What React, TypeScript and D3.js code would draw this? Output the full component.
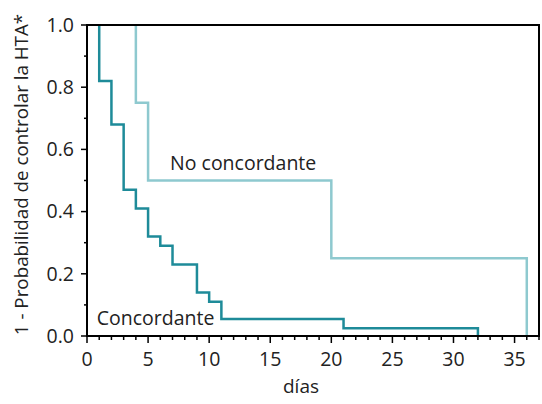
import React, { useEffect, useRef } from "react";
import * as d3 from "d3";

// Kaplan-Meier style curves
const concTimes = [1, 1, 2, 3, 4, 5, 6, 7, 9, 10, 11, 21, 32];
const concValues = [1, 0.82, 0.68, 0.47, 0.41, 0.32, 0.29, 0.23, 0.14, 0.11, 0.055, 0.025, 0];
const noConcTimes = [4, 4, 5, 20, 36];
const noConcValues = [1, 0.75, 0.5, 0.25, 0];
const xTicks = [0, 5, 10, 15, 20, 25, 30, 35];
const yTicks = [0, 0.2, 0.4, 0.6, 0.8, 1.0];

const W = 542;
const H = 404;
const FONT = "'Open Sans', sans-serif";

export default function App() {
  const ref = useRef<SVGSVGElement>(null);

  useEffect(() => {
    const svg = d3.select(ref.current);
    svg.selectAll("*").remove();
    const margin = { top: 25, right: 3, bottom: 68, left: 87 };
    const width = W - margin.left - margin.right;
    const height = H - margin.top - margin.bottom;

    const g = svg.append("g").attr("transform", `translate(${margin.left},${margin.top})`);

    const x = d3.scaleLinear().domain([0, 37]).range([0, width]);
    const y = d3.scaleLinear().domain([0, 1]).range([height, 0]);

    const line = d3.line<[number, number]>()
      .x(d => x(d[0]))
      .y(d => y(d[1]))
      .curve(d3.curveStepAfter);

    const conc = concTimes.map((t, i) => [t, concValues[i]] as [number, number]);
    const noConc = noConcTimes.map((t, i) => [t, noConcValues[i]] as [number, number]);

    g.append("path").attr("d", line(noConc)).attr("fill", "none")
      .attr("stroke", "#8ec9cf").attr("stroke-width", 2.5);
    g.append("path").attr("d", line(conc)).attr("fill", "none")
      .attr("stroke", "#1e8b99").attr("stroke-width", 2.5);

    // x ticks, minor every day
    const xa = g.append("g").attr("transform", `translate(0,${height})`);
    xa.selectAll("line").data(d3.range(0, 38)).enter().append("line")
      .attr("x1", d => x(d)).attr("x2", d => x(d))
      .attr("y1", 0).attr("y2", d => (d % 5 === 0 ? 7 : 4))
      .attr("stroke", "#000").attr("stroke-width", 1.5);
    xa.selectAll("text").data(xTicks).enter().append("text")
      .attr("x", d => x(d)).attr("y", 30)
      .attr("text-anchor", "middle")
      .attr("font-family", FONT).attr("font-size", 19.5).attr("fill", "#222")
      .text(d => String(d));

    const ya = g.append("g");
    ya.selectAll("line").data(d3.range(0, 11).map(d => d / 10)).enter().append("line")
      .attr("x1", (d, i) => (i % 2 === 0 ? -6 : -3)).attr("x2", 0)
      .attr("y1", d => y(d)).attr("y2", d => y(d))
      .attr("stroke", "#000").attr("stroke-width", 1.5);
    ya.selectAll("text").data(yTicks).enter().append("text")
      .attr("x", -13).attr("y", d => y(d)).attr("dy", "0.35em")
      .attr("text-anchor", "end")
      .attr("font-family", FONT).attr("font-size", 19.5).attr("fill", "#222")
      .text(d => d.toFixed(1));

    // frame
    g.append("rect").attr("x", 0).attr("y", 0).attr("width", width).attr("height", height)
      .attr("fill", "none").attr("stroke", "#000").attr("stroke-width", 2);

    g.append("text").attr("x", x(6.8)).attr("y", y(0.535))
      .attr("font-family", FONT).attr("font-size", 19.5).attr("fill", "#222")
      .text("No concordante");
    g.append("text").attr("x", x(0.8)).attr("y", y(0.035))
      .attr("font-family", FONT).attr("font-size", 19.5).attr("fill", "#222")
      .text("Concordante");

    svg.append("text").attr("x", margin.left + width / 2 - 12).attr("y", 393)
      .attr("text-anchor", "middle")
      .attr("font-family", FONT).attr("font-size", 19).attr("fill", "#222")
      .text("días");
    svg.append("text")
      .attr("transform", `translate(28,${margin.top + height / 2 - 6}) rotate(-90)`)
      .attr("text-anchor", "middle")
      .attr("font-family", FONT).attr("font-size", 18.8).attr("fill", "#222")
      .text("1 - Probabilidad de controlar la HTA*");
  }, []);

  return <svg ref={ref} width={W} height={H} style={{ position: "absolute", left: 0, top: 0 }} />;
}
